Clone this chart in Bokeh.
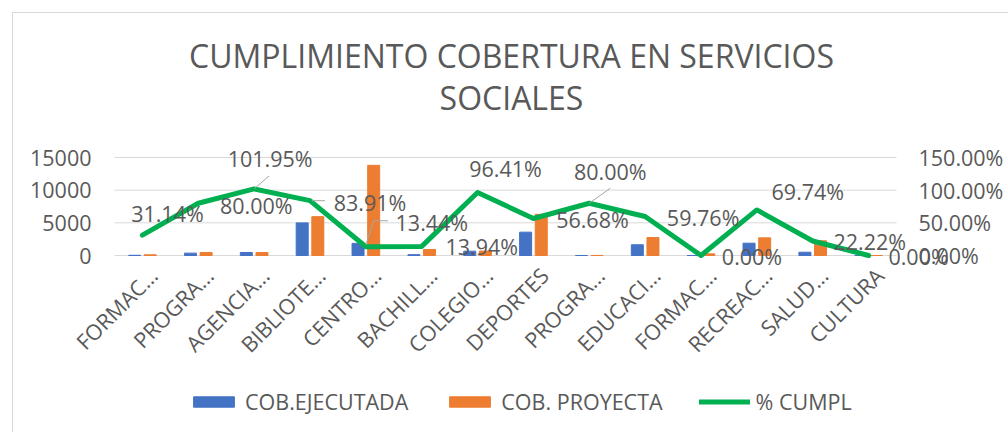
import numpy as np
from bokeh.plotting import figure
from bokeh.models import (Range1d, LinearAxis, FixedTicker, NumeralTickFormatter,
                          ColumnDataSource, LabelSet, Label, Legend, LegendItem)
from bokeh.core.properties import value
from bokeh.embed import file_html
from bokeh.resources import INLINE

# ---------------- data ----------------
categories = ["FORMAC…", "PROGRA…", "AGENCIA…", "BIBLIOTE…", "CENTRO…", "BACHILL…",
              "COLEGIO…", "DEPORTES", "PROGRA…", "EDUCACI…", "FORMAC…", "RECREAC…",
              "SALUD…", "CULTURA"]
cob_ejecutada = [33, 360, 459, 4993, 1855, 128, 656, 3571, 4, 1643, 0, 1883, 500, 0]
cob_proyecta = [106, 450, 450, 5950, 13800, 920, 680, 6300, 5, 2750, 250, 2700, 2250, 0]
pct_cumpl = [31.14, 80.00, 101.95, 83.91, 13.44, 13.94, 96.41, 56.68, 80.00, 59.76,
             0.00, 69.74, 22.22, 0.00]
left_ticks = [0, 5000, 10000, 15000]
right_ticks = [0, 0.5, 1.0, 1.5]
title_lines = ["CUMPLIMIENTO COBERTURA EN SERVICIOS", "SOCIALES"]

# data-label placement (screen pixel offsets from each point, up = positive)
label_dx = [25, 58, 16, 60, 66, 60, 28, 59, 21, 58, 51, 51, 57, 50]
label_dy = [22, -2, 30, -2, 24, 0, 24, -1, 32, -1, -1, 18, -1, -1]

# ---------------- layout (canvas pixels) ----------------
FONT = "Open Sans"
GREY = "#595959"
W, H = 996, 420
FL, FR, FT, FB = 101, 883, 144, 242      # plot-area edges on the canvas
n = len(categories)
X0, X1 = -0.5, n - 0.5
YMAX, PMAX = 15000.0, 1.5
sx = (FR - FL) / (X1 - X0)
sy = (FB - FT) / YMAX
sp = (FB - FT) / PMAX

def cx(px):
    return X0 + (px - FL) / sx

def cy(py):
    return (FB - py) / sy

x_range = Range1d(cx(0), cx(W))
y_range = Range1d(cy(H), cy(0))

p = figure(width=W, height=H, output_backend="svg", toolbar_location=None,
           x_range=x_range, y_range=y_range,
           min_border_left=0, min_border_right=0, min_border_top=0, min_border_bottom=0)
p.margin = (12, 0, 0, 12)
p.styles = {"border-top": "1px solid #d9d9d9", "border-left": "1px solid #d9d9d9"}
p.outline_line_color = None
p.background_fill_color = "white"
p.border_fill_color = "white"
p.extra_y_ranges = {"pct": Range1d((FB - H) / sp, (FB - 0) / sp)}
LAB_SHIFT = 11  # px: category labels sit a little right of the category centre
p.extra_x_ranges = {"lab": Range1d(cx(0) - LAB_SHIFT / sx, cx(W) - LAB_SHIFT / sx)}

idx = np.arange(n)
off = 0.14
bw = 0.215
src = ColumnDataSource(dict(x=idx, xb=idx - off, xo=idx + off,
                            eje=cob_ejecutada, pro=cob_proyecta,
                            pct=np.array(pct_cumpl) / 100.0,
                            lab=["%.2f%%" % v for v in pct_cumpl],
                            dx=label_dx, dy=label_dy))

# gridlines limited to the plot area
p.segment(x0=[X0] * len(left_ticks), x1=[X1] * len(left_ticks), y0=left_ticks,
          y1=left_ticks, color="#d9d9d9", line_width=1)

r_b = p.vbar(x="xb", top="eje", width=bw, source=src, color="#4472C4")
r_o = p.vbar(x="xo", top="pro", width=bw, source=src, color="#ED7D31")
r_l = p.line(x="x", y="pct", source=src, y_range_name="pct", color="#00B050",
             line_width=5, line_join="round", line_cap="round")

# leader lines (pixel offsets from the point)
leaders = {2: [(0, 0), (15, 13)], 3: [(2, 0), (15, 0)],
           4: [(0, 2), (8, 26), (22, 26)], 8: [(0, 0), (21, 15)]}
lx, ly = [], []
for i, pts in leaders.items():
    lx.append([idx[i] + a / sx for a, b in pts])
    ly.append([pct_cumpl[i] / 100.0 + b / sp for a, b in pts])
p.multi_line(lx, ly, y_range_name="pct", color="#a6a6a6", line_width=1)

labels = LabelSet(x="x", y="pct", text="lab", source=src, y_range_name="pct",
                  x_offset="dx", y_offset="dy", text_align="center",
                  text_baseline="middle", text_font=value(FONT),
                  text_font_size=value("21.5px"), text_color=GREY)
p.add_layout(labels)

def style_axis(ax, standoff):
    ax.axis_line_color = None
    ax.major_tick_line_color = None
    ax.minor_tick_line_color = None
    ax.major_tick_out = 0
    ax.major_tick_in = 0
    ax.minor_tick_out = 0
    ax.minor_tick_in = 0
    ax.major_label_text_font = FONT
    ax.major_label_text_font_size = "21.5px"
    ax.major_label_text_color = GREY
    ax.major_label_standoff = standoff

# axes
p.xaxis.visible = False
xa = LinearAxis(x_range_name="lab", ticker=FixedTicker(ticks=list(idx)), fixed_location=0)
xa.major_label_overrides = {int(i): c for i, c in enumerate(categories)}
xa.major_label_orientation = np.pi / 4
style_axis(xa, 16)
p.add_layout(xa, "below")

ya = p.yaxis[0]
ya.ticker = FixedTicker(ticks=left_ticks)
ya.fixed_location = X0
style_axis(ya, 23)

ra = LinearAxis(y_range_name="pct", ticker=FixedTicker(ticks=right_ticks),
                formatter=NumeralTickFormatter(format="0.00%"), fixed_location=X1)
style_axis(ra, 22)
p.add_layout(ra, "right")

p.xgrid.visible = False
p.ygrid.visible = False

# title
for t, yy in zip(title_lines, [42, 84]):
    p.add_layout(Label(x=cx(498), y=cy(yy), text=t, text_align="center",
                       text_baseline="middle", text_font=FONT,
                       text_font_size="32px", text_color=GREY))

# legend
legend = Legend(items=[LegendItem(label="COB.EJECUTADA", renderers=[r_b]),
                       LegendItem(label="COB. PROYECTA", renderers=[r_o]),
                       LegendItem(label="% CUMPL", renderers=[r_l])],
                orientation="horizontal", location=(175, 17),
                glyph_width=51, glyph_height=13, label_standoff=6, spacing=36,
                padding=0, margin=0, border_line_color=None,
                background_fill_alpha=0, label_text_font=FONT,
                label_text_font_size="21.5px", label_text_color=GREY)
p.add_layout(legend, "center")

open("out.html", "w").write(file_html(p, INLINE))
